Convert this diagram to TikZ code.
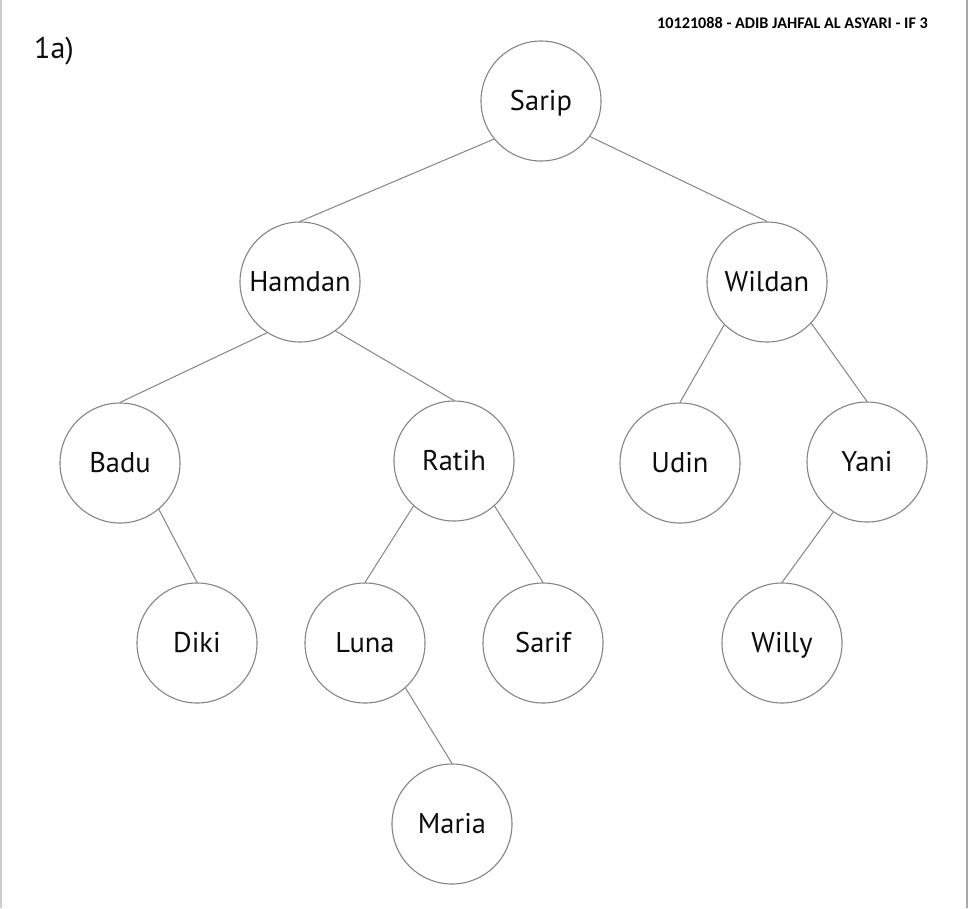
\documentclass[tikz,border=0pt]{standalone}
\usepackage{fontspec}
\setmainfont{PT Sans}
\newfontfamily\hdrfont{Carlito}
\definecolor{ringgray}{HTML}{858585}
\definecolor{textblack}{HTML}{0D0D0D}
\begin{document}
\begin{tikzpicture}[x=1pt,y=-1pt,
  treenode/.style={circle, draw=ringgray, line width=1.1pt, minimum size=120pt, inner sep=0pt,
    text height=19.6pt, text depth=0pt,
    font=\fontsize{28.5}{30}\selectfont, text=textblack},
  link/.style={draw=ringgray, line width=1pt}]
\useasboundingbox (0,0) rectangle (969,908);
\fill[white] (0,0) rectangle (969,908);
\draw[draw=gray!40, line width=1.5pt] (1,0) -- (1,908);
\draw[draw=gray!70, line width=1.8pt] (967,0) -- (967,908);
\node[anchor=base east, inner sep=0pt, font=\hdrfont\bfseries\fontsize{16.2}{18}\selectfont, text=black] (hdr) at (928,28.5) {10121088 - ADIB JAHFAL AL ASYARI - IF 3};
\node[anchor=base west, inner sep=0pt, font=\fontsize{30}{32}\selectfont, text=textblack] (lbl) at (34,58) {1a)};
\node[treenode] (sarip) at (541,101) {Sarip};
\node[treenode] (hamdan) at (300,282) {Hamdan};
\node[treenode] (wildan) at (767,282) {Wildan};
\node[treenode] (badu) at (120,463) {Badu};
\node[treenode] (ratih) at (454,461) {Ratih};
\node[treenode] (udin) at (680,463) {Udin};
\node[treenode] (yani) at (867,462) {Yani};
\node[treenode] (diki) at (197,643) {Diki};
\node[treenode] (luna) at (365,643) {Luna};
\node[treenode] (sarif) at (543,643) {Sarif};
\node[treenode] (willy) at (782,643) {Willy};
\node[treenode] (maria) at (452,824) {Maria};
\draw[link] (sarip.-141) -- (hamdan.north);
\draw[link] (sarip.-36) -- (wildan.north);
\draw[link] (hamdan.-123) -- (badu.north);
\draw[link] (hamdan.-54) -- (ratih.north);
\draw[link] (wildan.-135) -- (udin.north);
\draw[link] (wildan.-43) -- (yani.north);
\draw[link] (badu.-50) -- (diki.north);
\draw[link] (ratih.-132) -- (luna.north);
\draw[link] (ratih.-48) -- (sarif.north);
\draw[link] (yani.-124) -- (willy.north);
\draw[link] (luna.-48) -- (maria.north);
\end{tikzpicture}
\end{document}
